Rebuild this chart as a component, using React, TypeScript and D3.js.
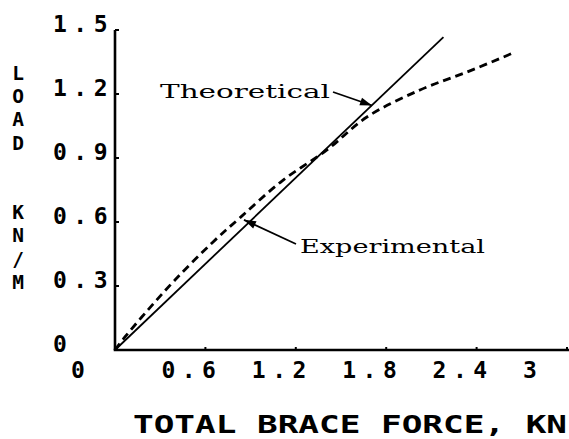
import React from "react";
import * as d3 from "d3";

// ---- data ----
const xTicks = [0, 0.6, 1.2, 1.8, 2.4, 3];
const xTickLabels = ["0", "0.6", "1.2", "1.8", "2.4", "3"];
const yTicks = [0, 0.3, 0.6, 0.9, 1.2, 1.5];
const yTickLabels = ["0", "0.3", "0.6", "0.9", "1.2", "1.5"];

const theoForce = [0, 2.18];
const theoLoad = [0, 1.467];

const expForce = [0, 0.066, 0.219, 0.398, 0.644, 0.836, 1.108, 1.407, 1.672, 2.024, 2.336, 2.641];
const expLoad = [0, 0.061, 0.188, 0.328, 0.502, 0.624, 0.792, 0.938, 1.092, 1.219, 1.303, 1.392];

const yTitleLetters = ["L", "O", "A", "D", "", "", "K", "N", "/", "M"];
const xTitle = "TOTAL BRACE FORCE, KN";

const W = 569;
const H = 439;

export default function App() {
  const x = d3.scaleLinear().domain([0, 3]).range([115, 567]);
  const y = d3.scaleLinear().domain([0, 1.5]).range([350, 30]);

  const line = d3
    .line<[number, number]>()
    .x((d) => x(d[0]))
    .y((d) => y(d[1]));
  const curve = d3
    .line<[number, number]>()
    .x((d) => x(d[0]))
    .y((d) => y(d[1]))
    .curve(d3.curveCatmullRom.alpha(0.5));

  const theoPts: [number, number][] = theoForce.map((f, i) => [f, theoLoad[i]]);
  const expPts: [number, number][] = expForce.map((f, i) => [f, expLoad[i]]);

  const plotFont = "'DejaVu Sans Mono', monospace";
  const typeFont = "'DejaVu Serif', serif";

  // annotation geometry (pixel space, pointing to curves)
  const theoTip = [x(1.706), y(1.146)];
  const theoStart = [333, 92];
  const expTip = [x(0.856), y(0.61)];
  const expStart = [296, 244];

  const arrowHead = (from: number[], to: number[], len = 12, wid = 4) => {
    const dx = to[0] - from[0];
    const dy = to[1] - from[1];
    const L = Math.hypot(dx, dy);
    const ux = dx / L;
    const uy = dy / L;
    const bx = to[0] - ux * len;
    const by = to[1] - uy * len;
    return `M${to[0]},${to[1]} L${bx - uy * wid},${by + ux * wid} L${bx + uy * wid},${by - ux * wid} Z`;
  };

  return (
    <svg
      width={W}
      height={H}
      viewBox={`0 0 ${W} ${H}`}
      style={{ position: "absolute", left: 0, top: 0, background: "#fff" }}
    >
      <rect width={W} height={H} fill="#fff" />
      {/* axes */}
      <line x1={x(0)} y1={y(1.5)} x2={x(0)} y2={y(0)} stroke="#000" strokeWidth={2.6} />
      <line x1={x(0) - 1.3} y1={y(0)} x2={W} y2={y(0)} stroke="#000" strokeWidth={2.6} />
      {yTicks.map((t) => (
        <line key={"yt" + t} x1={x(0)} x2={x(0) + 4} y1={y(t)} y2={y(t)} stroke="#000" strokeWidth={2} />
      ))}
      {xTicks.map((t) => (
        <line key={"xt" + t} x1={x(t)} x2={x(t)} y1={y(0)} y2={y(0) - 3} stroke="#000" strokeWidth={2} />
      ))}
      {/* tick labels */}
      {xTicks.map((t, i) => (
        <text
          key={"xl" + t}
          x={x(t) - 44}
          y={y(0) + 28}
          fontFamily={plotFont}
          fontWeight="bold"
          fontSize={23}
          letterSpacing={6.5}
          fill="#000"
        >
          {xTickLabels[i]}
        </text>
      ))}
      {yTicks.map((t, i) => (
        <text
          key={"yl" + t}
          x={53}
          y={y(t) + 2}
          fontFamily={plotFont}
          fontWeight="bold"
          fontSize={23}
          letterSpacing={6.5}
          fill="#000"
        >
          {yTickLabels[i]}
        </text>
      ))}
      {/* axis titles */}
      {yTitleLetters.map((c, i) =>
        c ? (
          <text
            key={"ytl" + i}
            x={18}
            y={80 + i * 23.2}
            textAnchor="middle"
            fontFamily={plotFont}
            fontWeight="bold"
            fontSize={19.5}
            fill="#000"
          >
            {c}
          </text>
        ) : null
      )}
      <text
        x={133}
        y={433}
        fontFamily={plotFont}
        fontWeight="bold"
        fontSize={25}
        textLength={434}
        lengthAdjust="spacingAndGlyphs"
        fill="#000"
      >
        {xTitle}
      </text>
      {/* curves */}
      <path d={line(theoPts) ?? ""} fill="none" stroke="#000" strokeWidth={1.8} />
      <path
        d={curve(expPts) ?? ""}
        fill="none"
        stroke="#000"
        strokeWidth={2.8}
        strokeDasharray="8,5"
      />
      {/* annotations */}
      <text
        x={160}
        y={98}
        fontFamily={typeFont}
        fontSize={19}
        textLength={170}
        lengthAdjust="spacingAndGlyphs"
        fill="#000"
      >
        Theoretical
      </text>
      <line x1={theoStart[0]} y1={theoStart[1]} x2={theoTip[0]} y2={theoTip[1]} stroke="#000" strokeWidth={1.8} />
      <path d={arrowHead(theoStart, theoTip)} fill="#000" />
      <text
        x={300}
        y={253}
        fontFamily={typeFont}
        fontSize={19}
        textLength={185}
        lengthAdjust="spacingAndGlyphs"
        fill="#000"
      >
        Experimental
      </text>
      <line x1={expStart[0]} y1={expStart[1]} x2={expTip[0]} y2={expTip[1]} stroke="#000" strokeWidth={1.8} />
      <path d={arrowHead(expStart, expTip)} fill="#000" />
    </svg>
  );
}
